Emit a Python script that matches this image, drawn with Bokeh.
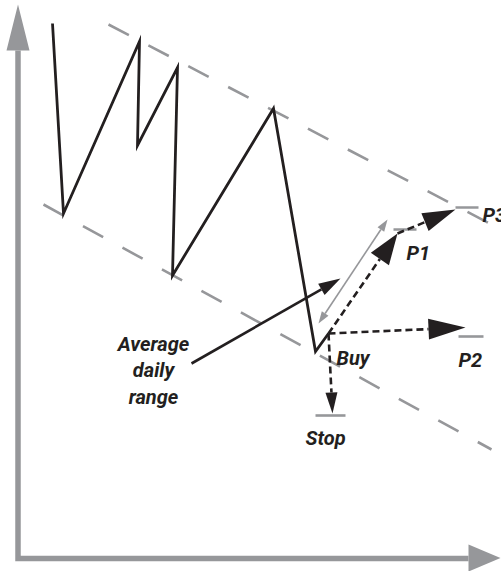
import math
from bokeh.plotting import figure
from bokeh.models import Range1d
from bokeh.core.properties import value
from bokeh.embed import file_html
from bokeh.resources import INLINE

# ---- diagram data (picture coordinates, y grows downward) ----
price_x = [52, 63, 139, 137, 177, 172, 273, 315, 328]
price_y = [23, 213, 41, 145, 67, 275, 108, 351, 333]

upper_channel_x = [108, 491]
upper_channel_y = [24, 224]
lower_channel_x = [43, 491]
lower_channel_y = [204, 449]

axis_path_x = [17.5, 17.5, 468]
axis_path_y = [50, 558, 558]
y_axis_tip = (17.5, 4)
x_axis_tip = (500, 557.5)

# dashed trade arrows: start -> tip
trade_x0 = [328, 397, 328, 328]
trade_y0 = [333, 233, 333, 333]
trade_x1 = [397, 455, 465, 332]
trade_y1 = [233, 209, 327, 413]
trade_head_len = [31, 33, 37, 21]
trade_head_wid = [22, 19, 21, 12]

# target / stop levels (short gray ticks)
tick_x0 = [393, 455, 458, 315]
tick_x1 = [416, 478, 483, 345]
tick_y = [229, 207, 336, 415]

labels = ["P1", "P3", "P2", "Buy", "Stop"]
label_x = [406, 482, 458, 336, 305]
label_y = [252, 214, 359, 357, 437]

note_lines = ["Average", "daily", "range"]
note_x = [153, 153, 153]
note_y = [343, 369.5, 396]
note_arrow = (191, 363, 340, 278)
range_arrow = (318, 323, 387, 219)

GRAY = "#96979a"
INK = "#231f20"
FONT = "Roboto"

W, H = 501, 571
OX, OY = 0, 0

p = figure(width=W, height=H, x_range=Range1d(OX, OX + W), y_range=Range1d(OY + H, OY),
           output_backend="svg", toolbar_location=None, min_border=0)
p.axis.visible = False
p.grid.visible = False
p.outline_line_color = None
p.background_fill_color = "white"
p.border_fill_color = "white"


def head(x0, y0, x1, y1, L, Wd):
    dx, dy = x1 - x0, y1 - y0
    d = math.hypot(dx, dy)
    ux, uy = dx / d, dy / d
    bx, by = x1 - ux * L, y1 - uy * L
    px, py = -uy, ux
    return ([x1, bx + px * Wd / 2, bx - px * Wd / 2],
            [y1, by + py * Wd / 2, by - py * Wd / 2], bx, by)


# channel lines
p.multi_line([upper_channel_x, lower_channel_x], [upper_channel_y, lower_channel_y],
             line_color=GRAY, line_width=2.6, line_dash="23 22")

# axes
p.line(axis_path_x, axis_path_y, line_color=GRAY, line_width=5.5, line_join="miter")
hx, hy, _, _ = head(axis_path_x[0], axis_path_y[1], y_axis_tip[0], y_axis_tip[1], 46, 23)
hx2, hy2, _, _ = head(axis_path_x[1], axis_path_y[2], x_axis_tip[0], x_axis_tip[1], 32, 27)
p.patches([hx, hx2], [hy, hy2], fill_color=GRAY, line_color=None)

# ticks
p.segment(tick_x0, tick_y, tick_x1, tick_y, line_color=GRAY, line_width=2.6)

# price path
p.line(price_x, price_y, line_color=INK, line_width=2.8, line_join="miter")

# gray double arrow (average daily range)
gx0, gy0, gx1, gy1 = range_arrow
ha = head(gx0, gy0, gx1, gy1, 12, 8)
hb = head(gx1, gy1, gx0, gy0, 12, 8)
p.segment([ha[2]], [ha[3]], [hb[2]], [hb[3]], line_color=GRAY, line_width=1.6)
p.patches([ha[0], hb[0]], [ha[1], hb[1]], fill_color=GRAY, line_color=None)

# dashed trade arrows
sx, sy, px_, py_ = [], [], [], []
for x0, y0, x1, y1, L, Wd in zip(trade_x0, trade_y0, trade_x1, trade_y1, trade_head_len, trade_head_wid):
    tx, ty, bx, by = head(x0, y0, x1, y1, L, Wd)
    sx.append([x0, bx])
    sy.append([y0, by])
    px_.append(tx)
    py_.append(ty)
p.multi_line(sx, sy, line_color=INK, line_width=2.6, line_dash="7 4")
p.patches(px_, py_, fill_color=INK, line_color=None)

# annotation arrow
ax0, ay0, ax1, ay1 = note_arrow
tx, ty, bx, by = head(ax0, ay0, ax1, ay1, 22, 13)
p.segment([ax0], [ay0], [bx], [by], line_color=INK, line_width=2.6)
p.patch(tx, ty, fill_color=INK, line_color=None)

# labels
p.text(label_x, label_y, text=labels, text_font=value(FONT),
       text_font_style="bold italic", text_font_size="20px", text_color=INK,
       text_baseline="alphabetic", text_align="left")
p.text(note_x, note_y, text=note_lines, text_font=value(FONT),
       text_font_style="bold italic", text_font_size="20px", text_color=INK,
       text_baseline="alphabetic", text_align="center")

open("out.html", "w").write(file_html(p, INLINE))
